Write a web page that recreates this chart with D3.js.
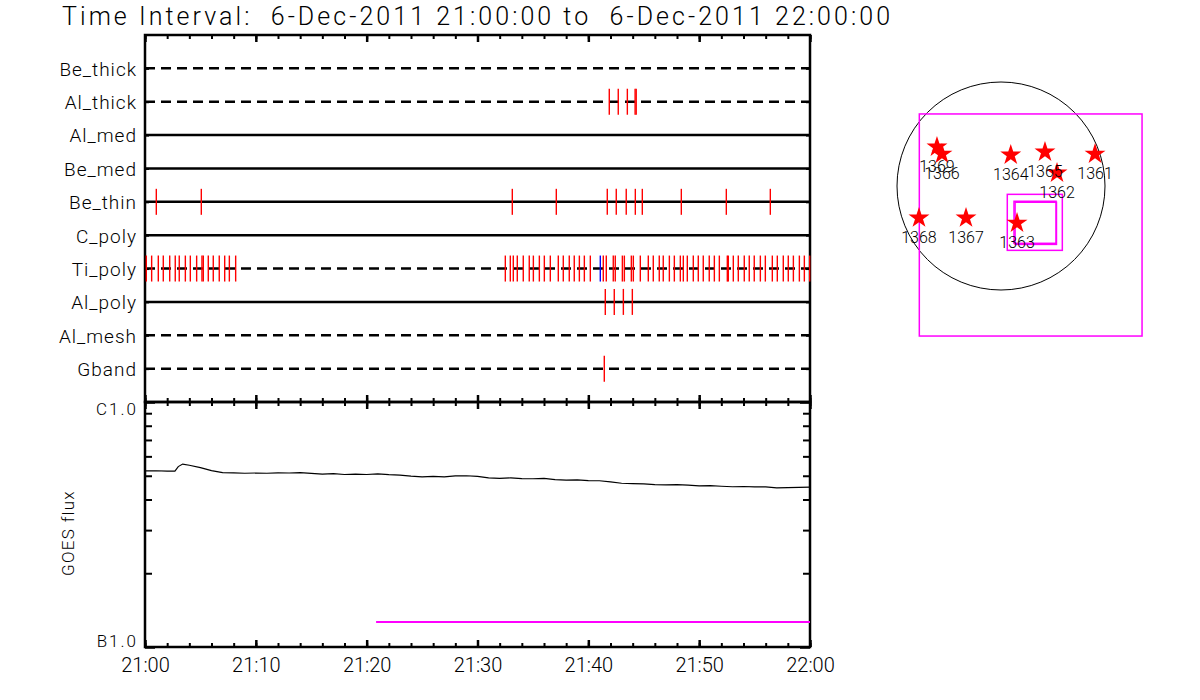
<!DOCTYPE html>
<html><head><meta charset="utf-8">
<script src="https://cdn.jsdelivr.net/npm/d3@7"></script>
<style>
html,body{margin:0;padding:0;background:#fff;}
svg{display:block;}
text{font-family:Roboto,'Liberation Sans','DejaVu Sans',sans-serif;font-weight:300;fill:#000;}
</style></head>
<body>
<svg id="c" width="1200" height="700"></svg>
<script>
// ---------- DATA ----------
const titleText = "Time Interval:  6-Dec-2011 21:00:00 to  6-Dec-2011 22:00:00";
const rowNames = ["Be_thick","Al_thick","Al_med","Be_med","Be_thin","C_poly","Ti_poly","Al_poly","Al_mesh","Gband"];
const rowDashed = [true,true,false,false,false,false,true,false,true,true];
// event times in minutes after 21:00
const evAlThick = [41.89,42.70,43.52,44.22,44.32];
const evBeThin = [1.02,5.08,33.14,37.11,41.71,42.52,43.42,44.24,44.87,48.39,52.45,56.42];
const evTiPoly = [0.12,0.60,1.20,1.65,2.23,2.73,3.09,3.64,4.09,4.66,5.14,5.26,5.71,6.16,6.70,7.19,7.61,8.18,
  32.51,32.96,33.23,33.59,34.13,34.67,35.04,35.58,36.03,36.57,37.29,37.74,38.28,38.73,39.19,39.64,40.18,
  41.35,41.62,42.25,42.43,43.07,43.25,43.88,44.06,44.69,45.41,45.86,46.40,46.76,47.31,47.76,48.30,48.57,
  48.93,49.47,49.92,50.37,50.91,51.37,51.82,52.54,52.63,53.08,53.53,54.07,54.52,54.97,55.52,55.97,56.60,
  57.05,57.59,58.04,58.50,59.04,59.49,59.97];
const evTiPolyBlue = [41.08];
const evAlPoly = [41.53,42.34,43.16,43.97];
const evGband = [41.44];
// GOES flux (W/m^2) vs minutes after 21:00
const goesMin = [0,1,2,2.7,3.0,3.4,4,5,6,7,8,9,10,11,12,13,14,15,16,17,18,19,20,21,22,23,24,25,26,27,28,29,30,
  31,32,33,34,35,36,37,38,39,40,41,42,43,44,45,46,47,48,49,50,51,52,53,54,55,56,57,58,59,60];
const goesFlux = [5.23,5.24,5.22,5.22,5.45,5.58,5.52,5.40,5.25,5.15,5.14,5.12,5.13,5.12,5.14,5.13,5.15,5.11,5.08,
  5.10,5.06,5.08,5.06,5.09,5.05,5.03,4.98,4.95,4.97,4.95,4.99,5.00,4.97,4.90,4.88,4.90,4.87,4.86,4.88,4.82,
  4.80,4.81,4.78,4.77,4.72,4.66,4.64,4.63,4.60,4.59,4.60,4.58,4.55,4.56,4.53,4.51,4.52,4.50,4.50,4.46,4.47,
  4.48,4.49].map(v => v * 1e-7);
const magentaSeg = {start: 20.85, end: 60, flux: 1.265e-7};
const yTickVals = [1e-7, 1e-6];
const yTickLabels = ["B1.0", "C1.0"];
const xLabelEvery = 10;
// right panel: active regions (arcsec)
const arNum = ["1369","1366","1364","1365","1362","1361","1368","1367","1363"];
const arX = [-591,-545,90,406,517,868,-757,-323,148];
const arY = [360,295,286,314,120,295,-295,-295,-342];
const sunRadius = 960;
const boxes = [
  {x0:-754, x1:1302, y0:-1385, y1:665},
  {x0:58, x1:566, y0:-594, y1:-77},
  {x0:120, x1:508, y0:-529, y1:-141},
  {x0:130, x1:512, y0:-539, y1:-150}
];

// ---------- DRAW ----------
const svg = d3.select("#c");
const t0 = new Date(Date.UTC(2011,11,6,21,0,0));
const toDate = m => new Date(t0.getTime() + m*60000);
const x = d3.scaleUtc().domain([toDate(0), toDate(60)]).range([145, 810]);
const L = 145, R = 810, T1 = 35, B1 = 402, B2 = 647;
const yRow = d3.scaleLinear().domain([0, 11]).range([B1, T1]);
const yG = d3.scaleLog().domain([1e-7, 1e-6]).range([B2, B1]);

const minorT = d3.range(0, 61, 2).map(toDate);
const majorT = d3.range(0, 61, 10).map(toDate);

// title
svg.append("text").attr("x", 62).attr("y", 25).attr("font-size", 25)
  .attr("xml:space", "preserve").style("white-space", "pre")
  .attr("textLength", 828).attr("lengthAdjust", "spacing").text(titleText);

function styleAxis(g, w) {
  g.selectAll("path.domain").remove();
  g.selectAll("line").attr("stroke", "#000").attr("stroke-width", w || 2);
  return g;
}
function xTicks(y, dir) {
  const mk = dir === "down" ? d3.axisBottom : d3.axisTop;
  svg.append("g").attr("transform", `translate(0,${y})`)
    .call(mk(x).tickValues(minorT).tickSize(4).tickFormat("")).call(g => styleAxis(g));
  svg.append("g").attr("transform", `translate(0,${y})`)
    .call(mk(x).tickValues(majorT).tickSize(7).tickFormat("")).call(g => styleAxis(g, 2.5));
}
xTicks(T1, "down");
xTicks(B1, "up");
xTicks(B1, "down");
xTicks(B2, "up");

// frames
svg.append("rect").attr("x", L).attr("y", T1).attr("width", R-L).attr("height", B1-T1)
  .attr("fill", "none").attr("stroke", "#000").attr("stroke-width", 2.5);
svg.append("rect").attr("x", L).attr("y", B1).attr("width", R-L).attr("height", B2-B1)
  .attr("fill", "none").attr("stroke", "#000").attr("stroke-width", 2.5);

// row lines
const yRowAxisScale = d3.scalePoint().domain(rowNames).range([yRow(10), yRow(1)]);
svg.append("g").selectAll("line").data(rowNames).join("line")
  .attr("x1", L).attr("x2", R)
  .attr("y1", d => yRowAxisScale(d)).attr("y2", d => yRowAxisScale(d))
  .attr("stroke", "#000").attr("stroke-width", 2.5)
  .attr("stroke-dasharray", (d, i) => rowDashed[i] ? "10,6" : null);

// row tick marks on left/right axes
svg.append("g").attr("transform", `translate(${L},0)`)
  .call(d3.axisRight(yRowAxisScale).tickSize(4).tickFormat("")).call(g => styleAxis(g));
svg.append("g").attr("transform", `translate(${R},0)`)
  .call(d3.axisLeft(yRowAxisScale).tickSize(4).tickFormat("")).call(g => styleAxis(g));
svg.append("g").attr("transform", `translate(${L},0)`)
  .call(d3.axisLeft(yRowAxisScale).tickSize(0).tickPadding(8))
  .call(g => g.select("path.domain").remove())
  .selectAll("text").attr("font-size", 19).attr("font-family", null)
  .attr("letter-spacing", 1).attr("dy", "0.36em");

// event ticks
function events(arr, rowName, color) {
  const yc = yRowAxisScale(rowName);
  svg.append("g").selectAll("line").data(arr).join("line")
    .attr("x1", d => x(toDate(d))).attr("x2", d => x(toDate(d)))
    .attr("y1", yc - 13).attr("y2", yc + 13)
    .attr("stroke", color).attr("stroke-width", 1.4);
}
events(evAlThick, "Al_thick", "#ff0000");
events(evBeThin, "Be_thin", "#ff0000");
events(evTiPoly, "Ti_poly", "#ff0000");
events(evTiPolyBlue, "Ti_poly", "#0000ff");
events(evAlPoly, "Al_poly", "#ff0000");
events(evGband, "Gband", "#ff0000");

// GOES y axes
const minorY = d3.range(2, 10).map(k => k * 1e-7);
[[L, d3.axisRight], [R, d3.axisLeft]].forEach(([xx, mk]) => {
  svg.append("g").attr("transform", `translate(${xx},0)`)
    .call(mk(yG).tickValues(minorY).tickSize(7).tickFormat("")).call(g => styleAxis(g));
  svg.append("g").attr("transform", `translate(${xx},0)`)
    .call(mk(yG).tickValues(yTickVals).tickSize(10).tickFormat("")).call(g => styleAxis(g, 2.5));
});
svg.append("g").attr("transform", `translate(${L},0)`)
  .call(d3.axisLeft(yG).tickValues(yTickVals).tickSize(0).tickPadding(7)
    .tickFormat((d, i) => yTickLabels[i]))
  .call(g => g.select("path.domain").remove())
  .selectAll("text").attr("font-size", 17).attr("font-family", null).attr("letter-spacing", 2)
  .attr("dy", (d, i) => i === 1 ? "0.72em" : "-0.05em");

// GOES label
svg.append("text").attr("transform", "translate(74,533) rotate(-90)")
  .attr("text-anchor", "middle").attr("font-size", 17).attr("letter-spacing", 1.3).text("GOES flux");

// x labels
svg.append("g").attr("transform", `translate(0,${B2})`)
  .call(d3.axisBottom(x).tickValues(d3.range(0, 61, xLabelEvery).map(toDate)).tickSize(0).tickPadding(11)
    .tickFormat(d3.utcFormat("%H:%M")))
  .call(g => g.select("path.domain").remove())
  .selectAll("text").attr("font-size", 20).attr("font-family", null);

// GOES curve
const line = d3.line().x((d, i) => x(toDate(goesMin[i]))).y(d => yG(d));
svg.append("path").datum(goesFlux).attr("d", line)
  .attr("fill", "none").attr("stroke", "#000").attr("stroke-width", 1.2);

// magenta segment
svg.append("line")
  .attr("x1", x(toDate(magentaSeg.start))).attr("x2", x(toDate(magentaSeg.end)))
  .attr("y1", yG(magentaSeg.flux)).attr("y2", yG(magentaSeg.flux))
  .attr("stroke", "#ff00ff").attr("stroke-width", 2);

// ---------- right panel ----------
const cx = 1001, cy = 186, pr = 104;
const sx = d3.scaleLinear().domain([-sunRadius, sunRadius]).range([cx - pr, cx + pr]);
const sy = d3.scaleLinear().domain([-sunRadius, sunRadius]).range([cy + pr, cy - pr]);
svg.append("circle").attr("cx", sx(0)).attr("cy", sy(0)).attr("r", sx(sunRadius) - sx(0))
  .attr("fill", "none").attr("stroke", "#000").attr("stroke-width", 1);
svg.append("g").selectAll("rect").data(boxes).join("rect")
  .attr("x", d => sx(d.x0)).attr("y", d => sy(d.y1))
  .attr("width", d => sx(d.x1) - sx(d.x0)).attr("height", d => sy(d.y0) - sy(d.y1))
  .attr("fill", "none").attr("stroke", "#ff00ff").attr("stroke-width", 1.5);
const star = d3.symbol().type(d3.symbolStar).size(136);
svg.append("g").selectAll("path").data(arNum).join("path")
  .attr("transform", (d, i) => `translate(${sx(arX[i])},${sy(arY[i])})`)
  .attr("d", star).attr("fill", "#ff0000");
svg.append("g").selectAll("text").data(arNum).join("text")
  .attr("x", (d, i) => sx(arX[i])).attr("y", (d, i) => sy(arY[i]) + 25)
  .attr("text-anchor", "middle").attr("font-size", 16).text(d => d);
</script>
</body></html>
